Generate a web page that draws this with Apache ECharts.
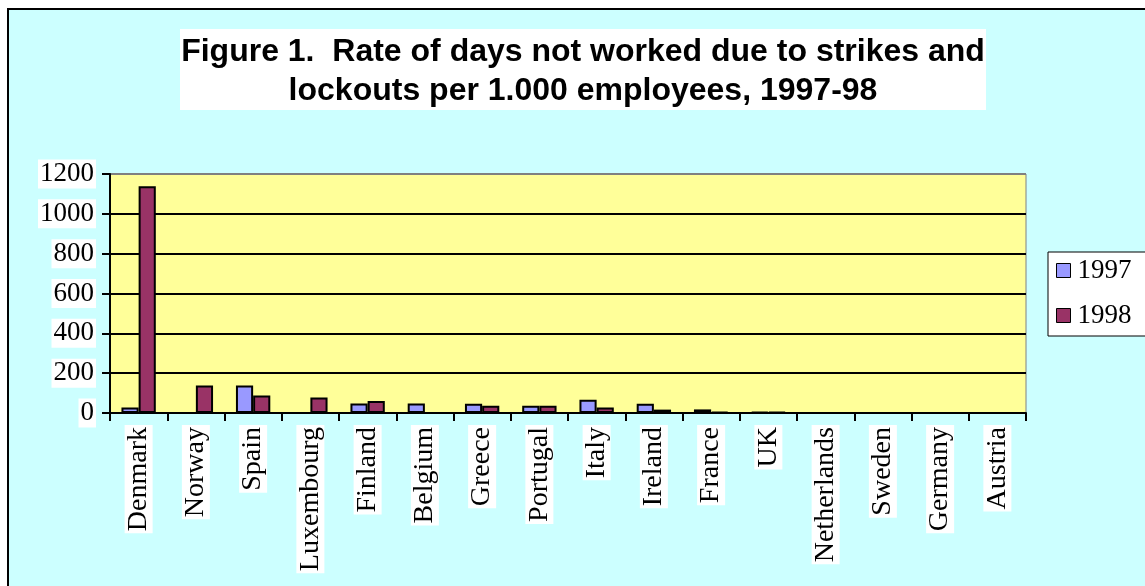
<!DOCTYPE html>
<html><head><meta charset="utf-8">
<script src="https://cdn.jsdelivr.net/npm/echarts@6/dist/echarts.min.js"></script>
<style>html,body{margin:0;padding:0;background:#fff}#c{width:1145px;height:586px}</style>
</head><body><div id="c"></div>
<script>
const categories = ['Denmark','Norway','Spain','Luxembourg','Finland','Belgium','Greece','Portugal','Italy','Ireland','France','UK','Netherlands','Sweden','Germany','Austria'];
const values1997 = [28, 0, 138, 0, 48, 48, 47, 37, 67, 47, 18, 5, 0, 0, 0, 0];
const values1998 = [1138, 138, 88, 78, 60, 0, 37, 37, 27, 17, 6, 4, 0, 0, 0, 0];
const yTicks = [0, 200, 400, 600, 800, 1000, 1200];

const chart = echarts.init(document.getElementById('c'), null, {renderer: 'canvas'});
const serif = '"Liberation Serif", "Times New Roman", serif';
chart.setOption({
  backgroundColor: '#ffffff',
  animation: false,
  graphic: [
    {type: 'rect', z: -10, shape: {x: 8, y: 9, width: 1200, height: 700},
     style: {fill: '#CCFFFF', stroke: '#000', lineWidth: 2}},
    {type: 'rect', z: -5, shape: {x: 180, y: 29, width: 806, height: 81},
     style: {fill: '#ffffff'}}
  ],
  title: {
    text: 'Figure 1.  Rate of days not worked due to strikes and\nlockouts per 1.000 employees, 1997-98',
    left: 583, top: 33, textAlign: 'center', padding: 0,
    textStyle: {fontFamily: '"Liberation Sans", Arial, sans-serif', fontWeight: 'bold', fontSize: 32, lineHeight: 39, color: '#000'}
  },
  legend: {
    orient: 'vertical', left: 1048, top: 252,
    backgroundColor: '#fff', borderColor: '#000', borderWidth: 1,
    padding: [5, 20, 7, 8], itemGap: 18, itemWidth: 14, itemHeight: 14, icon: 'rect',
    itemStyle: {borderColor: '#000', borderWidth: 1},
    textStyle: {fontFamily: serif, fontSize: 27, color: '#000', lineHeight: 27, padding: [0, 0, 0, 2]},
    data: ['1997', '1998']
  },
  grid: {left: 110, right: 119, top: 174, bottom: 173, show: true, backgroundColor: '#FFFF99', borderColor: '#808080', borderWidth: 1},
  xAxis: {
    type: 'category', data: categories,
    axisLine: {lineStyle: {color: '#000', width: 2}},
    axisTick: {show: true, length: 8, lineStyle: {color: '#000', width: 2}},
    axisLabel: {rotate: 90, fontFamily: serif, fontSize: 28, color: '#000', margin: 12, backgroundColor: '#fff', padding: [0, 2, 0, 2], interval: 0}
  },
  yAxis: {
    type: 'value', min: 0, max: 1200, interval: 200,
    axisLine: {show: true, lineStyle: {color: '#000', width: 2}},
    axisTick: {show: true, length: 8, lineStyle: {color: '#000', width: 2}},
    splitLine: {lineStyle: {color: ['#000', '#000', '#000', '#000', '#000', '#000', '#808080'], width: 2}},
    axisLabel: {fontFamily: serif, fontSize: 27, color: '#000', margin: 14, backgroundColor: '#fff', padding: [1, 2, 1, 2],
      formatter: v => yTicks.includes(v) ? String(v) : ''}
  },
  series: [
    {name: '1997', type: 'bar', data: values1997, barGap: '0%', barCategoryGap: '40%',
     itemStyle: {color: '#9999FF', borderColor: '#000', borderWidth: 2}},
    {name: '1998', type: 'bar', data: values1998, barGap: '0%', barCategoryGap: '40%',
     itemStyle: {color: '#993366', borderColor: '#000', borderWidth: 2}}
  ]
});
</script></body></html>
